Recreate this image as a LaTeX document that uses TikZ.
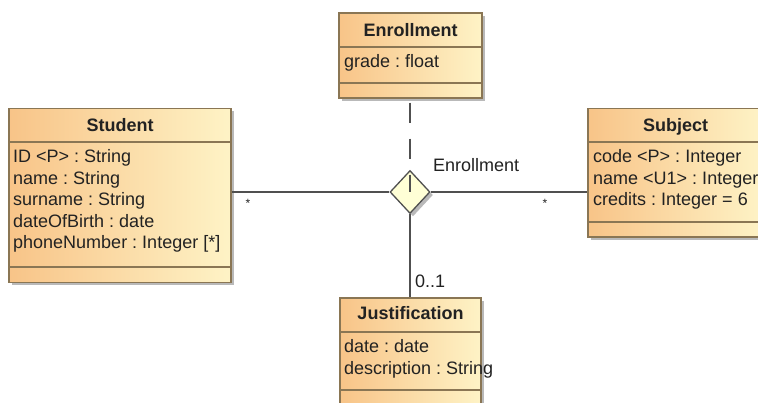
\documentclass[tikz,border=0pt]{standalone}
\usepackage{fontspec}
\setmainfont{Liberation Sans}
\usetikzlibrary{shapes.geometric,shadows}
\definecolor{boxL}{HTML}{F8C488}
\definecolor{boxR}{HTML}{FEF3C6}
\definecolor{boxLine}{HTML}{8A7654}
\definecolor{lineC}{HTML}{505050}
\definecolor{diaFill}{HTML}{FFFFD6}
\definecolor{shadowC}{HTML}{A8A8A8}
\definecolor{txt}{HTML}{222222}
\frenchspacing
\begin{document}
\begin{tikzpicture}[x=1pt,y=-1pt,
  umlbox/.style={draw=boxLine, line width=1.3pt, left color=boxL, right color=boxR,
    inner sep=0pt, drop shadow={shadow xshift=3pt, shadow yshift=-3pt, fill=shadowC, opacity=0.8}},
  sep/.style={draw=boxLine, line width=1.3pt},
  conn/.style={draw=lineC, line width=1.4pt},
  attr/.style={anchor=base west, inner sep=0pt, font=\fontsize{18}{21}\selectfont, text=txt},
  head/.style={anchor=base, inner sep=0pt, font=\fontsize{18}{21}\selectfont\bfseries, text=txt},
  lbl/.style={anchor=base west, inner sep=0pt, font=\fontsize{18}{21}\selectfont, text=txt},
  mult/.style={anchor=center, inner sep=0pt, font=\fontsize{12}{12}\selectfont, text=txt}]
\useasboundingbox (0,0) rectangle (758,403);
\clip (0,0) rectangle (758,403);
\fill[white] (0,0) rectangle (758,403);

% boxes
\node[umlbox, minimum width=222pt, minimum height=174pt] (student) at (120,195.5) {};
\node[umlbox, minimum width=175pt, minimum height=128.5pt] (subject) at (675.5,172.75) {};
\node[umlbox, minimum width=143pt, minimum height=85pt] (enrollment) at (410.5,55.5) {};
\node[umlbox, minimum width=141pt, minimum height=120pt] (justification) at (410.5,358) {};

% separators
\draw[sep] (student.west |- 0,142) -- (student.east |- 0,142);
\draw[sep] (student.west |- 0,267) -- (student.east |- 0,267);
\draw[sep] (subject.west |- 0,142) -- (subject.east |- 0,142);
\draw[sep] (subject.west |- 0,222) -- (subject.east |- 0,222);
\draw[sep] (enrollment.west |- 0,47) -- (enrollment.east |- 0,47);
\draw[sep] (enrollment.west |- 0,83) -- (enrollment.east |- 0,83);
\draw[sep] (justification.west |- 0,332) -- (justification.east |- 0,332);
\draw[sep] (justification.west |- 0,390) -- (justification.east |- 0,390);

% texts
\node[head] (studentH) at (120,131.5) {Student};
\node[attr] (s1) at (13,163) {ID <P> : String};
\node[attr] (s2) at (13,184.5) {name : String};
\node[attr] (s3) at (13,206) {surname : String};
\node[attr] (s4) at (13,227.5) {dateOfBirth : date};
\node[attr] (s5) at (13,249) {phoneNumber : Integer [*]};

\node[head] (subjectH) at (675.5,131.5) {Subject};
\node[attr] (u1) at (593,163) {code <P> : Integer};
\node[attr] (u2) at (593,184.5) {name <U1> : Integer};
\node[attr] (u3) at (593,206) {credits : Integer = 6};

\node[head] (enrollmentH) at (410.5,36.5) {Enrollment};
\node[attr] (e1) at (344,68) {grade : float};

\node[head] (justificationH) at (410.5,319.5) {Justification};
\node[attr] (j1) at (344,353) {date : date};
\node[attr] (j2) at (344,374.5) {description : String};

% association diamond
\node[diamond, draw=lineC, fill=diaFill, line width=1.3pt, minimum width=40pt, minimum height=43pt,
  inner sep=0pt, drop shadow={shadow xshift=3pt, shadow yshift=-3pt, fill=shadowC, opacity=0.8}] (dia) at (410,192) {};

% connectors
\draw[conn] (student.east |- dia) -- (dia.west);
\draw[conn] (dia.east) -- (subject.west |- dia);
\draw[conn] (dia.south) -- (dia.south |- justification.north);
\draw[conn, dash pattern=on 20pt off 16pt, dash phase=32pt] (enrollment.south -| dia) -- (dia.center);

% labels
\node[mult] (m1) at (248,203) {*};
\node[mult] (m2) at (545,203) {*};
\node[lbl] (assocName) at (433,172) {Enrollment};
\node[lbl] (m3) at (415,288) {0..1};
\end{tikzpicture}
\end{document}
